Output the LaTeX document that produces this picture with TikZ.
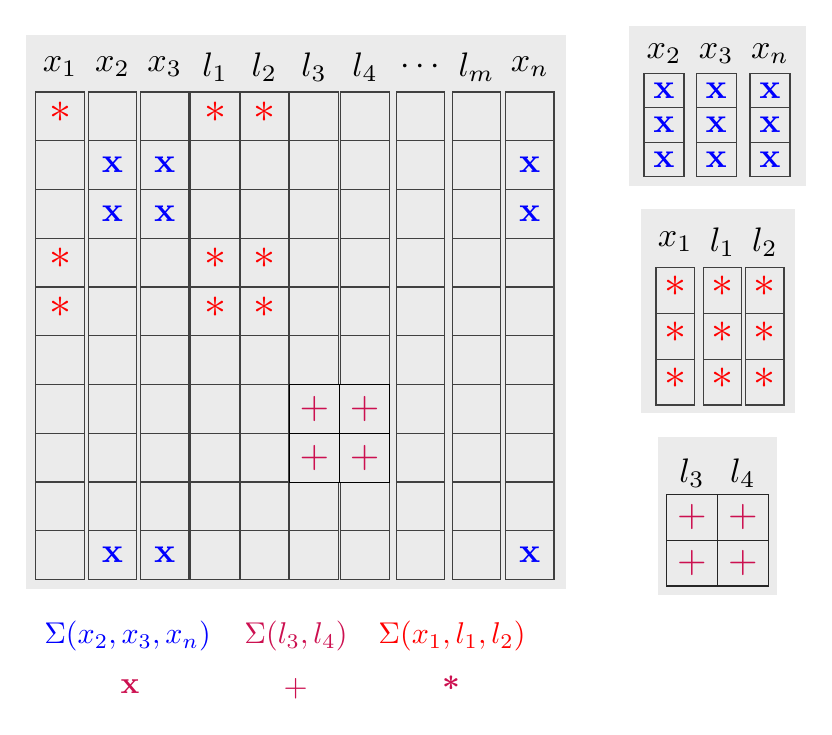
\documentclass[tikz,border=0pt]{standalone}
\definecolor{bgc}{RGB}{235,235,235}
\definecolor{crim}{RGB}{204,16,80}
\newcommand\Hd[1]{\scalebox{3.4}{$#1$}}
\newcommand\Sy[1]{\scalebox{3.5}{$#1$}}
\newcommand\St{\scalebox{4.4}{$*$}}
\newcommand\Pl{\scalebox{3.8}{$+$}}
\newcommand\Lb[1]{\scalebox{3.0}{$#1$}}
\newcommand\Lg[1]{\scalebox{3.1}{$#1$}}
\begin{document}
\begin{tikzpicture}[x=1pt,y=-1pt,
  cell/.style={draw=black!75, line width=1.1pt, fill=bgc, inner sep=0pt,
               minimum width=48.4pt, minimum height=48.75pt},
  pcell/.style={draw=black, line width=1.2pt, fill=bgc, inner sep=0pt,
               minimum width=50pt, minimum height=49pt},
  hdr/.style={inner sep=0pt},
  sym/.style={inner sep=0pt},
  star/.style={sym, red, yshift=4pt},
  ex/.style={sym, blue},
  pl/.style={sym, crim},
  lbl/.style={inner sep=0pt},
  leg/.style={inner sep=0pt, crim}]
\useasboundingbox (0,0) rectangle (832,735);

% ---------------- main grid ----------------
\fill[bgc] (26,35) rectangle (566,588.7);
\foreach \i/\cx/\t in {1/60.1/x_1, 2/112.5/x_2, 3/164.8/x_3, 4/215.1/l_1, 5/264.3/l_2,
                      6/314.1/l_3, 7/365.1/l_4, 8/420.3/\cdots, 9/476.5/l_m, 10/529.8/x_n}{
  \node[hdr] (h\i) at (\cx,67) {\Hd{\t}};
  \foreach \j in {1,...,10}{
    \node[cell] (m-\i-\j) at (\cx,{92+48.75*(\j-0.5)}) {};
  }
}
% plus block
\node[pcell] (p-1-1) at (314.3,408.8) {};
\node[pcell] (p-2-1) at (364.7,408.8) {};
\node[pcell] (p-1-2) at (314.3,457.8) {};
\node[pcell] (p-2-2) at (364.7,457.8) {};
\foreach \a/\b in {1/1,2/1,1/2,2/2}{
  \node[pl] (ps-\a-\b) at (p-\a-\b) {\Pl};
}
% stars
\foreach \i in {1,4,5}{
  \foreach \j in {1,4,5}{
    \node[star] (s-\i-\j) at (m-\i-\j) {\St};
  }
}
% x marks
\foreach \i in {2,3,10}{
  \foreach \j in {2,3,10}{
    \node[ex] (x-\i-\j) at (m-\i-\j) {\Sy{\mathbf{x}}};
  }
}

% ---------------- panel 1 ----------------
\fill[bgc] (629.3,26) rectangle (805.7,186);
\foreach \i/\cx/\t in {1/664/x_2, 2/716.3/x_3, 3/770/x_n}{
  \node[hdr] (ah\i) at (\cx,54) {\Hd{\t}};
  \foreach \j in {1,2,3}{
    \node[cell, minimum width=40pt, minimum height=34.5pt] (a-\i-\j) at (\cx,{73.3+34.5*(\j-0.5)}) {};
    \node[ex] (ax-\i-\j) at (a-\i-\j) {\Sy{\mathbf{x}}};
  }
}

% ---------------- panel 2 ----------------
\fill[bgc] (641,209.3) rectangle (794.7,413.3);
\foreach \i/\cx/\t in {1/675.2/x_1, 2/722.5/l_1, 3/764.8/l_2}{
  \node[hdr] (bh\i) at (\cx,242) {\Hd{\t}};
  \foreach \j in {1,2,3}{
    \node[cell, minimum width=38.4pt, minimum height=45.9pt] (b-\i-\j) at (\cx,{267.3+45.9*(\j-0.5)}) {};
    \node[star] (bs-\i-\j) at (b-\i-\j) {\St};
  }
}

% ---------------- panel 3 ----------------
\fill[bgc] (658.3,436.7) rectangle (776.7,595);
\foreach \i/\cx/\t in {1/692/l_3, 2/742.8/l_4}{
  \node[hdr] (ch\i) at (\cx,473) {\Hd{\t}};
  \foreach \j in {1,2}{
    \node[cell, draw=black!85, minimum width=50.8pt, minimum height=45.85pt] (c-\i-\j) at (\cx,{494.3+45.85*(\j-0.5)}) {};
    \node[pl] (cp-\i-\j) at (c-\i-\j) {\Pl};
  }
}

% ---------------- legend ----------------
\node[lbl, blue] (L1) at (127.5,636) {\Lb{\Sigma(x_2,x_3,x_n)}};
\node[lbl, crim] (L2) at (296,636) {\Lb{\Sigma(l_3,l_4)}};
\node[lbl, red]  (L3) at (452,636) {\Lb{\Sigma(x_1,l_1,l_2)}};
\node[leg] (S1) at (130,687) {\Lg{\mathbf{x}}};
\node[leg] (S2) at (295.7,689) {\Lg{+}};
\node[leg, yshift=3pt] (S3) at (451.7,686) {\scalebox{3.1}{\mathversion{bold}$*$}};
\end{tikzpicture}
\end{document}
